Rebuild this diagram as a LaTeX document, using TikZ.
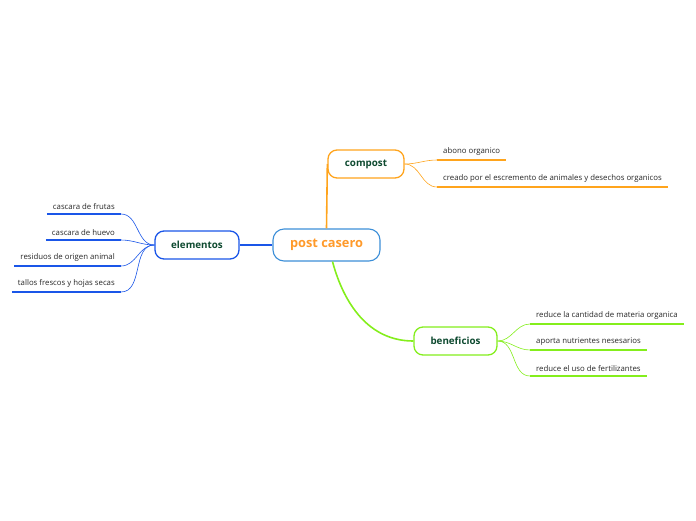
\documentclass[tikz,border=0pt]{standalone}
\usepackage{fontspec}
\setmainfont{Open Sans}
\definecolor{corange}{HTML}{FFA41C}
\definecolor{cblue}{HTML}{1A56E8}
\definecolor{cgreen}{HTML}{84EE1C}
\definecolor{cpc}{HTML}{3C8FD8}
\definecolor{ctxt}{HTML}{0E4A30}
\definecolor{cpctxt}{HTML}{FF9A2A}
\tikzset{
  topic/.style={draw, line width=1.3pt, rounded corners=9pt, minimum height=28pt, fill=white, font=\fontsize{9.8}{11}\selectfont\bfseries, text=ctxt, inner xsep=4pt},
  leaf/.style={font=\fontsize{7.8}{9}\selectfont, text=black!85, inner xsep=6pt, inner ysep=4pt},
  uline/.style={line width=1.8pt},
  thin/.style={line width=0.6pt},
}
\begin{document}
\begin{tikzpicture}[x=1pt,y=-1pt]
\useasboundingbox (0,0) rectangle (696,520);
% central
\node[draw=cpc, line width=1.1pt, rounded corners=11pt, minimum width=107pt, minimum height=32pt, fill=white, font=\fontsize{12.8}{14}\selectfont\bfseries, text=cpctxt] (pc) at (326.5,245) {post casero};
% compost
\node[topic, draw=corange, minimum width=76pt] (cp) at (366,164) {compost};
\draw[corange, line width=1.6pt] (pc.north) -- (cp.west);
\node[leaf, anchor=south west] (a1) at (437,160) {abono organico};
\node[leaf, anchor=south west] (a2) at (437,187) {creado por el escremento de animales y desechos organicos};
\draw[corange, uline] (a1.south west) -- (a1.south east);
\draw[corange, uline] (a2.south west) -- (a2.south east);
\draw[corange, thin] (cp.east) to[out=0,in=180] (a1.south west);
\draw[corange, thin] (cp.east) to[out=0,in=180] (a2.south west);
% elementos
\node[topic, draw=cblue, minimum width=84pt] (el) at (197,245) {elementos};
\draw[cblue, line width=1.2pt] (pc.west) -- (el.east);
\node[leaf, anchor=south east] (e1) at (121,214) {cascara de frutas};
\node[leaf, anchor=south east] (e2) at (121,240) {cascara de huevo};
\node[leaf, anchor=south east] (e3) at (121,266) {residuos de origen animal};
\node[leaf, anchor=south east] (e4) at (121,292) {tallos frescos y hojas secas};
\foreach \n in {e1,e2,e3,e4}{
  \draw[cblue, uline] (\n.south west) -- (\n.south east);
  \draw[cblue, thin] (el.west) to[out=180,in=0] (\n.south east);
}
% beneficios
\node[topic, draw=cgreen, minimum width=83pt] (bf) at (455.5,341) {beneficios};
\draw[cgreen, line width=1.6pt] (pc.south) ++(6,0) coordinate (pcs) (pcs) to[out=-75,in=180] (bf.west);
\node[leaf, anchor=south west] (b1) at (530,324) {reduce la cantidad de materia organica};
\node[leaf, anchor=south west] (b2) at (530,350) {aporta nutrientes nesesarios};
\node[leaf, anchor=south west] (b3) at (530,376) {reduce el uso de fertilizantes};
\foreach \n in {b1,b2,b3}{
  \draw[cgreen, uline] (\n.south west) -- (\n.south east);
  \draw[cgreen, thin] (bf.east) to[out=0,in=180] (\n.south west);
}
\end{tikzpicture}
\end{document}
